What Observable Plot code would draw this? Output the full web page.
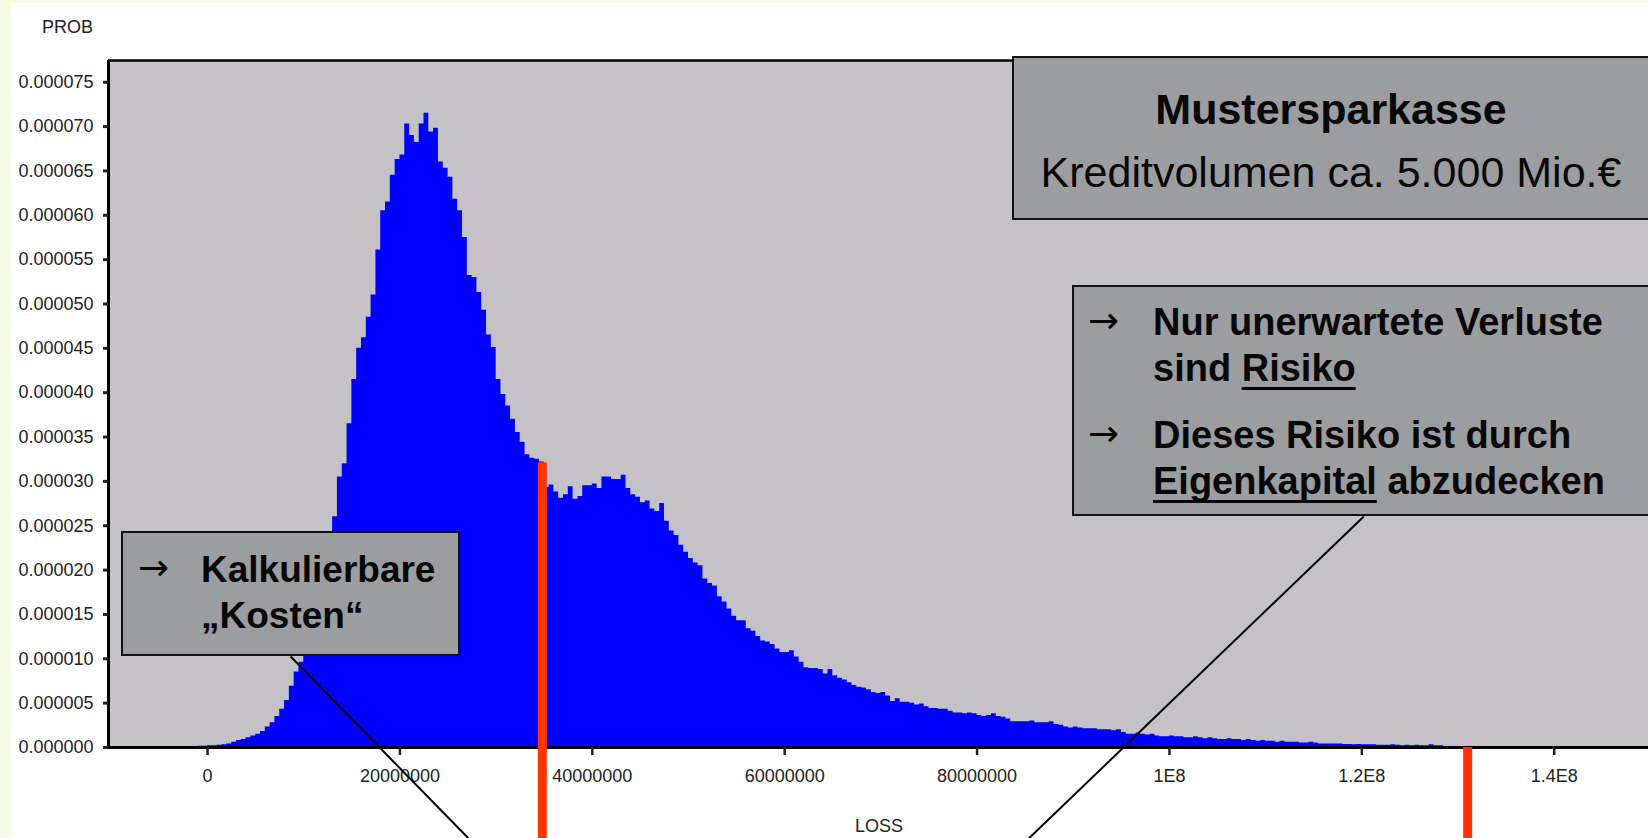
<!DOCTYPE html>
<html><head><meta charset="utf-8">
<script src="https://cdn.jsdelivr.net/npm/d3@7"></script>
<script src="https://cdn.jsdelivr.net/npm/@observablehq/plot@0.6"></script>
<style>
html,body{margin:0;padding:0;background:#f4fbe6;width:1648px;height:838px;overflow:hidden;}
#panel{position:absolute;left:11px;top:3px;width:1637px;height:835px;background:#fff;overflow:hidden;}
.box{position:absolute;background:#9c9da1;border:2px solid #111;box-sizing:border-box;}
.t{position:absolute;white-space:nowrap;font-family:"Liberation Sans",Arial,sans-serif;color:#080808;line-height:1;}
.t u{text-decoration-thickness:3px;text-underline-offset:6px;text-decoration-skip-ink:none;}
.ax{font-family:"Liberation Sans",Arial,sans-serif;color:#222;}
.arrow{font-family:"DejaVu Sans",sans-serif;font-weight:normal;}
</style></head><body>
<div id="panel"></div>
<script>
// ---- data ----
const lossStart = -8e6;      // first histogram bin (LOSS)
const binWidth = 0.5e6;      // histogram bin width
// PROB per bin, in units of 1e-6
const probMicro = [
  0, 0.1, 0.1, 0, 0.1, 0.1, 0.1, 0.1, 0.1, 0.1,
  0.1, 0.1, 0.1, 0.1, 0.15, 0.15, 0.2, 0.2, 0.25, 0.3,
  0.4, 0.6, 0.8, 0.9, 1.1, 1.3, 1.5, 1.8, 2.3, 2.8,
  3.5, 4.3, 5.3, 6.9, 8.5, 9.6, 11.0, 12.5, 14.5, 16.8,
  19.5, 22.5, 26.0, 30.5, 32.0, 36.5, 41.5, 45.0, 46.2, 48.5,
  51.0, 56.1, 60.5, 61.5, 64.5, 66.3, 66.8, 70.3, 69.0, 68.2,
  70.3, 71.5, 69.4, 69.8, 66.0, 65.3, 64.3, 61.8, 60.5, 57.5,
  53.2, 53.0, 51.3, 49.3, 46.5, 45.1, 41.5, 39.8, 38.5, 37.0,
  35.5, 34.4, 33.0, 32.6, 32.5, 32.2, 29.3, 29.6, 28.8, 28.1,
  28.5, 29.4, 28.0, 28.3, 29.5, 29.5, 29.7, 29.2, 30.5, 30.5,
  30.2, 30.2, 30.7, 29.2, 28.5, 28.2, 27.6, 27.8, 26.9, 26.6,
  27.5, 25.5, 24.4, 23.9, 22.8, 22.0, 21.3, 20.8, 20.5, 19.0,
  18.5, 18.2, 17.0, 16.4, 15.6, 14.8, 14.3, 14.3, 13.4, 13.1,
  12.5, 12.0, 11.9, 11.6, 11.1, 10.7, 10.7, 10.9, 10.2, 9.6,
  9.0, 8.9, 8.9, 8.8, 8.3, 8.8, 8.1, 7.8, 7.6, 7.3,
  7.0, 6.8, 6.7, 6.5, 6.2, 6.1, 6.2, 5.8, 5.2, 5.5,
  5.1, 5.1, 5.0, 4.8, 4.9, 4.6, 4.4, 4.4, 4.3, 4.3,
  4.1, 3.9, 3.9, 3.8, 3.9, 3.8, 3.6, 3.5, 3.6, 3.8,
  3.5, 3.4, 3.2, 2.9, 2.9, 2.9, 2.9, 3.0, 2.8, 2.8,
  2.8, 2.9, 2.6, 2.5, 2.3, 2.2, 2.3, 2.2, 2.1, 2.1,
  2.1, 2.0, 2.0, 2.0, 1.9, 2.0, 1.7, 1.5, 1.5, 1.6,
  1.5, 1.4, 1.5, 1.3, 1.2, 1.2, 1.3, 1.2, 1.2, 1.1,
  1.1, 1.2, 1.1, 1.0, 1.1, 1.0, 0.9, 0.9, 1.0, 0.9,
  0.9, 0.8, 0.9, 0.8, 0.7, 0.8, 0.7, 0.7, 0.6, 0.7,
  0.6, 0.6, 0.6, 0.5, 0.5, 0.6, 0.5, 0.4, 0.4, 0.4,
  0.4, 0.4, 0.35, 0.35, 0.3, 0.35, 0.3, 0.3, 0.3, 0.25,
  0.25, 0.25, 0.3, 0.25, 0.2, 0.25, 0.2, 0.25, 0.2, 0.2,
  0.3, 0.2, 0.2
];
const xTicks = [0, 20000000, 40000000, 60000000, 80000000, 100000000, 120000000, 140000000];
const xTickLabels = ["0", "20000000", "40000000", "60000000", "80000000", "1E8", "1.2E8", "1.4E8"];
const yTicks = [0, 0.000005, 0.00001, 0.000015, 0.00002, 0.000025, 0.00003, 0.000035,
                0.00004, 0.000045, 0.00005, 0.000055, 0.00006, 0.000065, 0.00007, 0.000075];
const expectedLoss = 34.8e6;
const expectedLossProb = 32.1e-6;
const valueAtRisk = 131.0e6;
const xDomain = [-10.3e6, 149.8e6];
const yDomain = [0, 77.45e-6];
const belowAxis = -10.3e-6;
const connectors = [
  {x1: 8.63e6, y1: 10.26e-6, x2: 27.14e6, y2: -10.26e-6},
  {x1: 120.2e6, y1: 26.04e-6, x2: 85.37e6, y2: -10.26e-6}
];

// ---- build ----
const pts = probMicro.map((v, i) => ({x: lossStart + i * binWidth, y: v * 1e-6}));
pts.push({x: lossStart + probMicro.length * binWidth, y: probMicro[probMicro.length - 1] * 1e-6});

const fmtY = d3.format(".6f");
const chart = Plot.plot({
  width: 1637, height: 835,
  marginLeft: 97, marginRight: 0, marginTop: 57, marginBottom: 91,
  x: {domain: xDomain, label: null},
  y: {domain: yDomain, label: null},
  style: {background: "transparent", fontFamily: '"Liberation Sans",Arial,sans-serif', fontSize: "18px", color: "#222", overflow: "visible"},
  marks: [
    Plot.frame({fill: "#c4c2c6", stroke: null}),
    Plot.areaY(pts, {x: "x", y: "y", curve: "step-after", fill: "#0000ff"}),
    Plot.ruleY([yDomain[1]], {stroke: "#000", strokeWidth: 2.5}),
    Plot.ruleY([0], {stroke: "#000", strokeWidth: 3}),
    Plot.ruleX([xDomain[0]], {stroke: "#000", strokeWidth: 3}),
    Plot.axisY({ticks: yTicks, tickFormat: fmtY, tickSize: 5, tickPadding: 10, strokeWidth: 3, label: null}),
    Plot.axisX({ticks: xTicks, tickFormat: d => xTickLabels[xTicks.indexOf(d)], tickSize: 8, tickPadding: 14, strokeWidth: 2.5, label: null}),
    Plot.ruleX([expectedLoss], {y1: expectedLossProb, y2: belowAxis, stroke: "#ff3300", strokeWidth: 9}),
    Plot.ruleX([valueAtRisk], {y1: 0, y2: belowAxis, stroke: "#ff3300", strokeWidth: 9}),
    Plot.link(connectors, {x1: "x1", y1: "y1", x2: "x2", y2: "y2", stroke: "#000", strokeWidth: 2})
  ]
});
const panel = document.getElementById("panel");
panel.appendChild(chart);

// ---- annotations (page coordinates) ----
function box(l, t, w, h) {
  const d = document.createElement("div");
  d.className = "box";
  Object.assign(d.style, {left: (l - 11) + "px", top: (t - 3) + "px", width: w + "px", height: h + "px"});
  panel.appendChild(d);
}
function txt(html, x, cy, size, opts = {}) {
  const d = document.createElement("div");
  d.className = "t" + (opts.cls ? " " + opts.cls : "");
  d.innerHTML = html;
  d.style.left = (x - 11) + "px";
  d.style.top = (cy - 0.49 * size - 3) + "px";
  d.style.fontSize = size + "px";
  if (opts.bold) d.style.fontWeight = "bold";
  if (opts.anchor === "middle") d.style.transform = "translateX(-50%)";
  if (opts.anchor === "end") d.style.transform = "translateX(-100%)";
  panel.appendChild(d);
}
txt("PROB", 93, 26.5, 18, {anchor: "end", cls: "ax"});
txt("LOSS", 879, 826, 18, {anchor: "middle", cls: "ax"});

box(1012, 56, 660, 164);
txt("Mustersparkasse", 1331, 109, 43, {bold: true, anchor: "middle"});
txt("Kreditvolumen ca. 5.000 Mio.€", 1331, 172, 43, {anchor: "middle"});

box(1072, 285, 620, 231);
txt("→", 1088, 320, 37, {cls: "arrow"});
txt("Nur unerwartete Verluste", 1153, 322, 38, {bold: true});
txt("sind <u>Risiko</u>", 1153, 368, 38, {bold: true});
txt("→", 1088, 433, 37, {cls: "arrow"});
txt("Dieses Risiko ist durch", 1153, 435, 38, {bold: true});
txt("<u>Eigenkapital</u> abzudecken", 1153, 481, 38, {bold: true});

box(121, 531, 339, 125);
txt("→", 138, 567, 37, {cls: "arrow"});
txt("Kalkulierbare", 201, 569, 37, {bold: true});
txt("„Kosten“", 201, 615, 37, {bold: true});
</script>
</body></html>
